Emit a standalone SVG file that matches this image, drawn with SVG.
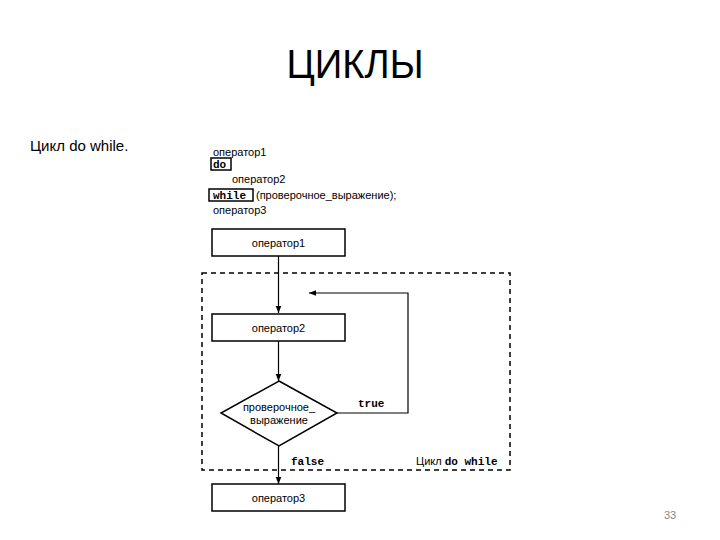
<svg xmlns="http://www.w3.org/2000/svg" width="720" height="540" viewBox="0 0 720 540">
<style>
.sans{font-family:"Liberation Sans",Arial,sans-serif;fill:#000}
.mono{font-family:"Liberation Mono","Courier New",monospace;font-weight:bold;fill:#000}
.box{fill:#fff;stroke:#000;stroke-width:1.5}
.ln{fill:none;stroke:#000;stroke-width:1.2}
</style>
<defs>
<marker id="ah" viewBox="0 0 10 10" refX="10" refY="5" markerWidth="6" markerHeight="6" orient="auto">
<path d="M0,1 L10,5 L0,9 z" fill="#000"/>
</marker>
</defs>
<rect width="720" height="540" fill="#fff"/>
<text class="sans" x="355" y="78" font-size="40" text-anchor="middle" textLength="137" lengthAdjust="spacingAndGlyphs">ЦИКЛЫ</text>
<text class="sans" x="30" y="151" font-size="15">Цикл do while.</text>
<g id="code">
<text class="sans" x="213" y="156" font-size="11">оператор1</text>
<rect x="211" y="158" width="20" height="12" fill="none" stroke="#000" stroke-width="1.5"/>
<text class="mono" x="213" y="168" font-size="11">do</text>
<text class="sans" x="232" y="183" font-size="11">оператор2</text>
<rect x="209" y="189" width="44" height="12" fill="none" stroke="#000" stroke-width="1.5"/>
<text class="mono" x="213" y="199" font-size="11">while</text>
<text class="sans" x="256" y="199" font-size="11">(проверочное_выражение);</text>
<text class="sans" x="213" y="214" font-size="11">оператор3</text>
</g>
<rect x="202" y="273" width="308" height="197" fill="none" stroke="#000" stroke-width="1.5" stroke-dasharray="5,4"/>
<g id="connectors">
<line class="ln" x1="278.5" y1="256" x2="278.5" y2="313" marker-end="url(#ah)"/>
<line class="ln" x1="278.5" y1="341" x2="278.5" y2="381" marker-end="url(#ah)"/>
<polyline class="ln" points="337,413 408,413 408,293 309,293" marker-end="url(#ah)"/>
<line class="ln" x1="278.5" y1="446" x2="278.5" y2="484" marker-end="url(#ah)"/>
<text class="mono" x="358" y="407" font-size="11">true</text>
<text class="mono" x="291" y="465" font-size="11">false</text>
<text x="416" y="465" font-size="11"><tspan class="sans">Цикл </tspan><tspan class="mono">do while</tspan></text>
</g>
<g id="op1">
<rect class="box" x="212" y="229" width="133" height="27"/>
<text class="sans" x="278.5" y="247" font-size="11" text-anchor="middle">оператор1</text>
</g>
<g id="op2">
<rect class="box" x="212" y="314" width="133" height="27"/>
<text class="sans" x="278.5" y="332" font-size="11" text-anchor="middle">оператор2</text>
</g>
<g id="cond">
<polygon points="279,381 337,413 279,446 221,413" fill="#fff" stroke="#000" stroke-width="1.5"/>
<text class="sans" x="279" y="411" font-size="11" text-anchor="middle">проверочное_</text>
<text class="sans" x="279" y="424" font-size="11" text-anchor="middle">выражение</text>
</g>
<g id="op3">
<rect class="box" x="212" y="484" width="133" height="27"/>
<text class="sans" x="278.5" y="502" font-size="11" text-anchor="middle">оператор3</text>
</g>
<text x="670" y="519" font-size="11" font-family="Liberation Sans,Arial,sans-serif" fill="#888" text-anchor="middle">33</text>
</svg>
